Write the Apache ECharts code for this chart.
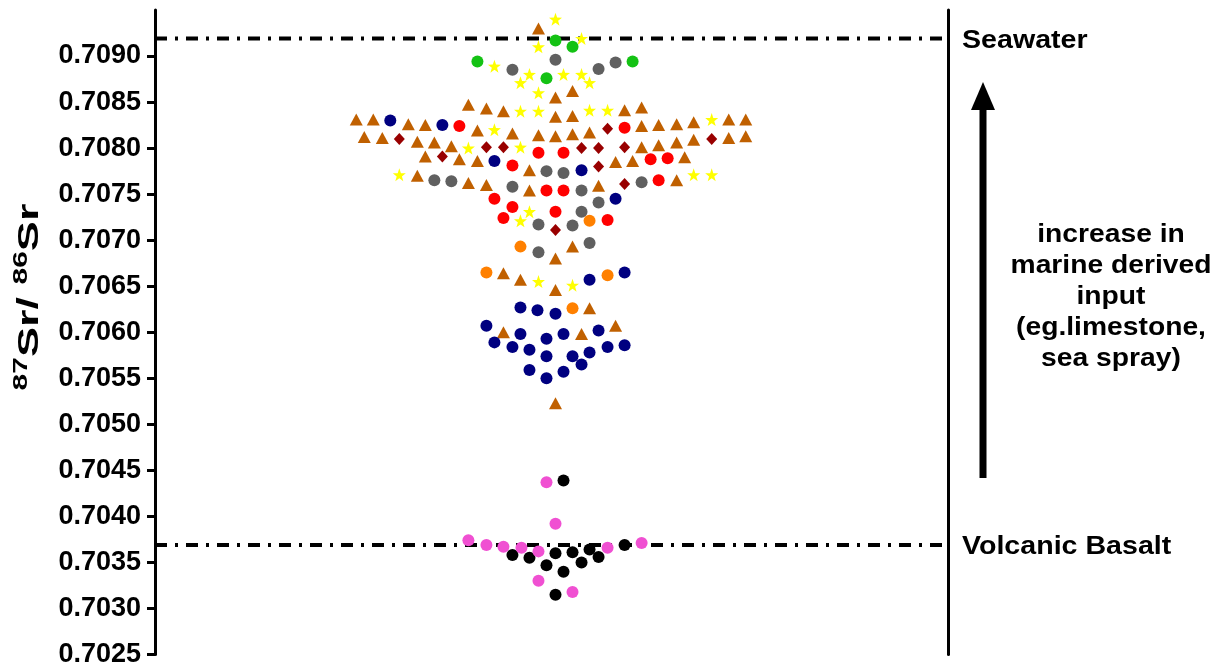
<!DOCTYPE html>
<html>
<head>
<meta charset="utf-8">
<script src="https://cdn.jsdelivr.net/npm/echarts@6/dist/echarts.min.js"></script>
<style>
    html, body { margin: 0; padding: 0; background: #fff; }
    #chart { width: 1217px; height: 668px; }
</style>
</head>
<body>
<div id="chart"></div>
<script>
// [offset in swarm, 87Sr/86Sr]
var greenPts = [[0, 0.70917], [17, 0.70910], [-78, 0.70894], [77, 0.70894], [-9, 0.70876]];
var grayPts = [[0, 0.70896], [-43, 0.70885], [43, 0.70886], [60, 0.70893], [-9, 0.70775], [8, 0.70773],
    [-121, 0.70765], [-104, 0.70764], [-43, 0.70758], [26, 0.70754], [86, 0.70763], [43, 0.70741],
    [26, 0.70731], [-17, 0.70717], [17, 0.70716], [34, 0.70697], [-17, 0.70687]];
var navyPts = [[-165, 0.70830], [-113, 0.70825], [-61, 0.70786], [26, 0.70776], [60, 0.70745],
    [34, 0.70657], [69, 0.70665], [-35, 0.70627], [-18, 0.70624], [0, 0.70620], [-69, 0.70607],
    [-35, 0.70598], [8, 0.70598], [43, 0.70602], [-9, 0.70593], [-61, 0.70589], [-43, 0.70584],
    [-26, 0.70581], [-9, 0.70574], [17, 0.70574], [34, 0.70578], [52, 0.70584], [69, 0.70586],
    [-26, 0.70559], [-9, 0.70550], [8, 0.70557], [26, 0.70565]];
var redPts = [[-96, 0.70824], [69, 0.70822], [-17, 0.70795], [8, 0.70795], [-43, 0.70781], [95, 0.70788],
    [112, 0.70789], [-9, 0.70754], [8, 0.70754], [103, 0.70765], [-61, 0.70745], [-43, 0.70736],
    [-52, 0.70724], [0, 0.70731], [52, 0.70722]];
var orangePts = [[34, 0.70721], [-35, 0.70693], [-69, 0.70665], [52, 0.70662], [17, 0.70626]];
var diamondPts = [[-156, 0.70810], [-113, 0.70791], [-69, 0.70801], [-52, 0.70801], [26, 0.70800],
    [43, 0.70800], [52, 0.70821], [69, 0.70801], [156, 0.70810], [43, 0.70780], [69, 0.70761], [0, 0.70711]];
var starPts = [[0, 0.70940], [26, 0.70919], [-17, 0.70910], [-61, 0.70889], [-26, 0.70880], [8, 0.70880],
    [26, 0.70880], [-35, 0.70871], [34, 0.70871], [-17, 0.70860], [-35, 0.70840], [-17, 0.70840],
    [34, 0.70841], [52, 0.70841], [156, 0.70831], [-61, 0.70820], [-87, 0.70800], [-35, 0.70801],
    [-156, 0.70771], [138, 0.70771], [156, 0.70771], [-26, 0.70731], [-35, 0.70721], [-17, 0.70655], [17, 0.70651]];
var trianglePts = [[-17, 0.70930], [17, 0.70862], [0, 0.70855], [-87, 0.70847], [-69, 0.70843], [-52, 0.70840],
    [0, 0.70834], [17, 0.70835], [69, 0.70841], [86, 0.70844], [-199, 0.70831], [-182, 0.70831],
    [-147, 0.70826], [-130, 0.70825], [-78, 0.70819], [-43, 0.70816], [-17, 0.70814], [0, 0.70813],
    [17, 0.70815], [34, 0.70817], [86, 0.70824], [103, 0.70825], [121, 0.70826], [138, 0.70828],
    [173, 0.70831], [190, 0.70831], [-191, 0.70812], [-173, 0.70811], [-138, 0.70807], [-121, 0.70806],
    [-104, 0.70802], [86, 0.70801], [103, 0.70803], [121, 0.70806], [138, 0.70809], [173, 0.70811],
    [190, 0.70813], [-130, 0.70791], [-96, 0.70788], [-78, 0.70786], [-26, 0.70776], [60, 0.70785],
    [77, 0.70786], [129, 0.70790], [-138, 0.70770], [-87, 0.70762], [-69, 0.70760], [-26, 0.70754],
    [43, 0.70759], [121, 0.70765], [17, 0.70693], [0, 0.70680], [-52, 0.70664], [-35, 0.70657],
    [0, 0.70646], [34, 0.70626], [-52, 0.70600], [26, 0.70598], [60, 0.70607], [0, 0.70523]];
var blackPts = [[8, 0.70439], [-43, 0.70358], [-26, 0.70355], [0, 0.70360], [17, 0.70361], [34, 0.70364],
    [43, 0.70356], [69, 0.70369], [-9, 0.70347], [26, 0.70350], [8, 0.70340], [0, 0.70315]];
var pinkPts = [[-9, 0.70437], [0, 0.70392], [-87, 0.70374], [-69, 0.70369], [-52, 0.70367], [-34, 0.70366],
    [-17, 0.70362], [52, 0.70366], [86, 0.70371], [-17, 0.70330], [17, 0.70318]];

var yTicks = [0.7025, 0.7030, 0.7035, 0.7040, 0.7045, 0.7050, 0.7055, 0.7060, 0.7065, 0.7070, 0.7075, 0.7080, 0.7085, 0.7090];
var seawater = 0.70919;
var basalt = 0.70369;
var xMin = -400, xMax = 392;

var FONT = 'Liberation Sans, Arial, sans-serif';
var STAR = 'path://M0,-10 L2.35,-3.24 L9.51,-3.09 L3.8,1.24 L5.88,8.09 L0,4 L-5.88,8.09 L-3.8,1.24 L-9.51,-3.09 L-2.35,-3.24 Z';

function pts(name, data, symbol, size, color) {
    return {
        name: name,
        type: 'scatter',
        data: data,
        symbol: symbol,
        symbolSize: size,
        z: 3,
        itemStyle: { color: color, opacity: 1 },
        silent: true
    };
}

// dash-dot reference line across the whole plot
function refLine(v) {
    return {
        type: 'line',
        data: [[xMin, v], [xMax, v]],
        symbol: 'none',
        silent: true,
        z: 2,
        lineStyle: { color: '#000', width: 4, type: [12, 8, 3, 8], cap: 'butt' }
    };
}

var chart = echarts.init(document.getElementById('chart'));

var series = [
    refLine(seawater),
    refLine(basalt),
    pts('triangle', trianglePts, 'triangle', [13, 12], '#c06000'),
    pts('star', starPts, STAR, 13, '#ffff00'),
    pts('diamond', diamondPts, 'diamond', [11, 12], '#990000'),
    pts('green', greenPts, 'circle', 12, '#14c214'),
    pts('gray', grayPts, 'circle', 12, '#606060'),
    pts('navy', navyPts, 'circle', 12, '#000080'),
    pts('red', redPts, 'circle', 12, '#ff0000'),
    pts('orange', orangePts, 'circle', 12, '#ff8000'),
    pts('black', blackPts, 'circle', 12, '#000000'),
    pts('pink', pinkPts, 'circle', 12, '#f050d2')
];

var option = {
    animation: false,
    grid: { left: 155, right: 269, top: 10, bottom: 8 },
    xAxis: { type: 'value', min: xMin, max: xMax, show: false },
    yAxis: [
        {
            type: 'value',
            min: 0.7025,
            max: 0.7095,
            interval: 0.0005,
            axisLine: { show: true, onZero: false, lineStyle: { color: '#000', width: 3 } },
            axisTick: { show: true, length: 8, lineStyle: { color: '#000', width: 3 }, customValues: yTicks },
            axisLabel: {
                customValues: yTicks,
                margin: 14,
                color: '#000',
                fontSize: 27,
                fontWeight: 'bold',
                fontFamily: FONT,
                formatter: function (v) { return v.toFixed(4); }
            },
            splitLine: { show: false }
        },
        {
            type: 'value',
            position: 'right',
            min: 0.7025,
            max: 0.7095,
            axisLine: { show: true, onZero: false, lineStyle: { color: '#000', width: 3 } },
            axisTick: { show: false },
            axisLabel: { show: false },
            splitLine: { show: false }
        }
    ],
    graphic: [
        {
            type: 'text',
            x: 28,
            y: 297,
            rotation: Math.PI / 2,
            scaleX: 1.5,
            style: {
                text: '{sup|87}{main|Sr/ }{sup|86}{main|Sr}',
                align: 'center',
                verticalAlign: 'middle',
                rich: {
                    main: { fontSize: 30, fontWeight: 'bold', fontFamily: FONT, fill: '#000', lineHeight: 34, verticalAlign: 'bottom' },
                    sup: { fontSize: 20, fontWeight: 'bold', fontFamily: FONT, fill: '#000', lineHeight: 34, verticalAlign: 'top' }
                }
            }
        },
        {
            type: 'text', x: 962, y: 41, scaleX: 1.1,
            style: { text: 'Seawater', fontSize: 26, fontWeight: 'bold', fontFamily: FONT, fill: '#000', verticalAlign: 'middle' }
        },
        {
            type: 'text', x: 962, y: 547, scaleX: 1.1,
            style: { text: 'Volcanic Basalt', fontSize: 26, fontWeight: 'bold', fontFamily: FONT, fill: '#000', verticalAlign: 'middle' }
        },
        {
            type: 'text', x: 1111, y: 297, scaleX: 1.13,
            style: {
                text: 'increase in\nmarine derived\ninput\n(eg.limestone,\nsea spray)',
                fontSize: 25, fontWeight: 'bold', fontFamily: FONT, fill: '#000',
                align: 'center', verticalAlign: 'middle', lineHeight: 31
            }
        },
        // arrow
        {
            type: 'line',
            shape: { x1: 983, y1: 478, x2: 983, y2: 106 },
            style: { stroke: '#000', lineWidth: 7 }
        },
        {
            type: 'polygon',
            shape: { points: [[983, 82], [971, 110], [995, 110]] },
            style: { fill: '#000' }
        }
    ],
    series: series
};

chart.setOption(option);
window.addEventListener('resize', function () {
    chart.resize();
});
</script>
</body>
</html>
